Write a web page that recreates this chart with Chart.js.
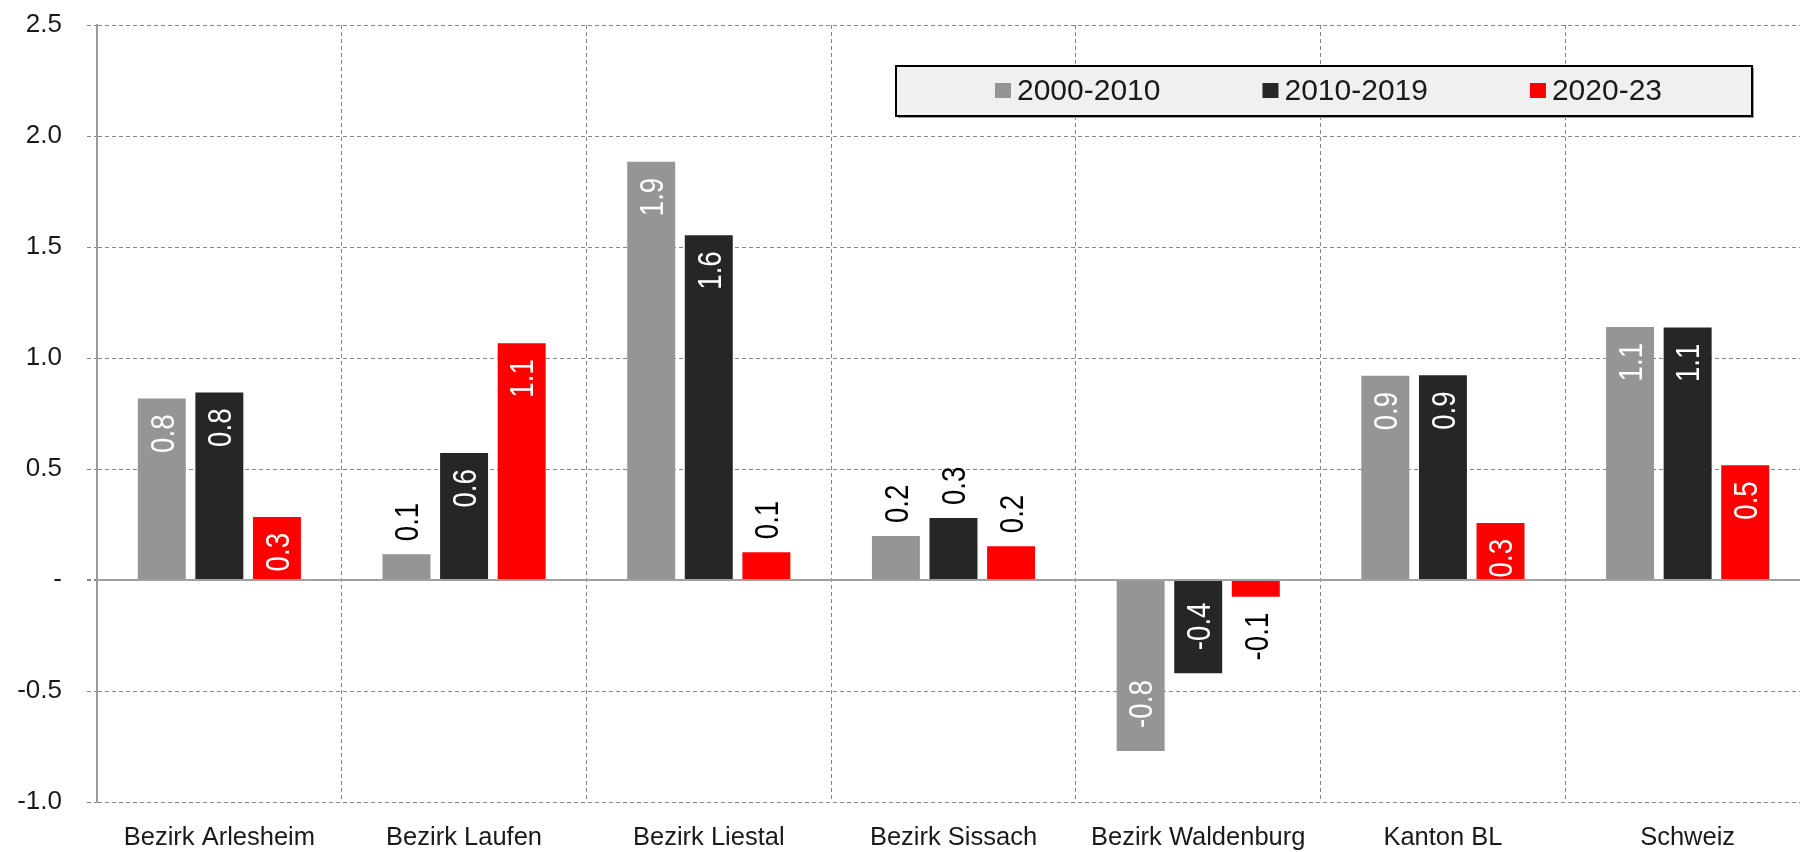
<!DOCTYPE html>
<html><head><meta charset="utf-8">
<script src="https://cdn.jsdelivr.net/npm/chart.js@4/dist/chart.umd.min.js"></script>
<style>
html,body{margin:0;padding:0;overflow:hidden;background:#fff;}
#wrap{position:absolute;left:0;top:0;width:1810px;height:852px;}
</style>
</head><body>
<div id="wrap"><canvas id="c" width="1810" height="852"></canvas></div>
<script>
const categories = ['Bezirk Arlesheim','Bezirk Laufen','Bezirk Liestal','Bezirk Sissach','Bezirk Waldenburg','Kanton BL','Schweiz'];
const seriesNames = ['2000-2010','2010-2019','2020-23'];
const values2000_2010 = [0.818, 0.116, 1.884, 0.198, -0.770, 0.920, 1.140];
const values2010_2019 = [0.845, 0.572, 1.553, 0.279, -0.420, 0.922, 1.137];
const values2020_23   = [0.284, 1.067, 0.125, 0.152, -0.075, 0.257, 0.517];
const yTickLabels = ['-1.0','-0.5','-','0.5','1.0','1.5','2.0','2.5'];
const seriesColors = ['#959595','#262626','#ff0000'];
// labels drawn outside the bar end: [categoryIndex, seriesIndex]
const outsideLabels = [[1,0],[2,2],[3,0],[3,1],[3,2],[4,2]];

const FONT = '"Liberation Sans", Arial, Helvetica, sans-serif';

const labelPlugin = {
  id: 'barLabels',
  afterDatasetsDraw(chart) {
    const ctx = chart.ctx;
    const size = 33, capH = 0.716 * size;
    chart.data.datasets.forEach((ds, si) => {
      const meta = chart.getDatasetMeta(si);
      meta.data.forEach((bar, ci) => {
        const v = ds.data[ci];
        const txt = v.toFixed(1);
        const outside = outsideLabels.some(p => p[0] === ci && p[1] === si);
        let y, align;
        if (v >= 0) {
          if (outside) { y = bar.y - 13; align = 'left'; }
          else { y = bar.y + 16; align = 'right'; }
        } else {
          if (outside) { y = bar.y + 16; align = 'right'; }
          else { y = bar.y - 23; align = 'left'; }
        }
        ctx.save();
        ctx.translate(bar.x, y);
        ctx.rotate(-Math.PI / 2);
        ctx.scale(0.84, 1);
        ctx.font = size + 'px ' + FONT;
        ctx.textAlign = align;
        ctx.textBaseline = 'alphabetic';
        ctx.fillStyle = outside ? '#000000' : '#ffffff';
        ctx.fillText(txt, 0, capH / 2);
        ctx.restore();
      });
    });
  }
};

const legendPlugin = {
  id: 'boxLegend',
  afterDraw(chart) {
    const ctx = chart.ctx;
    const bx = 896, by = 66, bw = 856, bh = 50;
    ctx.save();
    ctx.fillStyle = '#9a9a9a';
    ctx.fillRect(bx + 2, by + 2, bw, bh);
    ctx.fillStyle = '#f0f0f0';
    ctx.fillRect(bx, by, bw, bh);
    ctx.strokeStyle = '#000000';
    ctx.lineWidth = 2;
    ctx.strokeRect(bx, by, bw, bh);
    ctx.font = '30px ' + FONT;
    ctx.textBaseline = 'alphabetic';
    ctx.textAlign = 'left';
    let x = 995;
    chart.data.datasets.forEach((ds) => {
      ctx.fillStyle = ds.backgroundColor;
      ctx.fillRect(x, 83, 16, 15);
      ctx.fillStyle = '#1a1a1a';
      ctx.fillText(ds.label, x + 22, 100);
      x += 22 + ctx.measureText(ds.label).width + 102;
    });
    ctx.restore();
  }
};

const dashFor = (c) => (c.tick && c.tick.value === 0) ? [] : [4, 3];

new Chart(document.getElementById('c'), {
  type: 'bar',
  data: {
    labels: categories,
    datasets: [
      { label: seriesNames[0], data: values2000_2010, backgroundColor: seriesColors[0] },
      { label: seriesNames[1], data: values2010_2019, backgroundColor: seriesColors[1] },
      { label: seriesNames[2], data: values2020_23, backgroundColor: seriesColors[2] }
    ]
  },
  options: {
    responsive: false,
    animation: false,
    devicePixelRatio: 1,
    layout: { padding: { top: 25, right: 0, left: 0, bottom: 0 } },
    datasets: { bar: { categoryPercentage: 0.706, barPercentage: 0.833, borderWidth: 0 } },
    plugins: { legend: { display: false }, tooltip: { enabled: false } },
    scales: {
      x: {
        grid: { color: '#858585', lineWidth: 1, drawTicks: false, offset: true },
        border: { display: false, dash: [4, 3] },
        ticks: { color: '#1a1a1a', font: { family: FONT, size: 25.5 }, padding: 21, maxRotation: 0, autoSkip: false },
        afterFit(s) { s.height = 50; s.paddingLeft = 0; s.paddingRight = 0; }
      },
      y: {
        min: -1, max: 2.5,
        grid: {
          color: (c) => (c.tick && c.tick.value === 0) ? '#a0a0a0' : '#858585',
          lineWidth: (c) => (c.tick && c.tick.value === 0) ? 2 : 1,
          tickLength: 10,
          tickColor: '#858585',
          tickBorderDash: [4, 3]
        },
        border: { display: true, color: '#9a9a9a', width: 2, dash: dashFor },
        ticks: {
          stepSize: 0.5,
          color: '#1a1a1a',
          font: { family: FONT, size: 26 },
          padding: 25,
          callback: (v, i) => yTickLabels[i]
        },
        afterFit(s) { s.width = 97; s.paddingTop = 0; s.paddingBottom = 0; }
      }
    }
  },
  plugins: [labelPlugin, legendPlugin]
});
</script>
</body></html>
